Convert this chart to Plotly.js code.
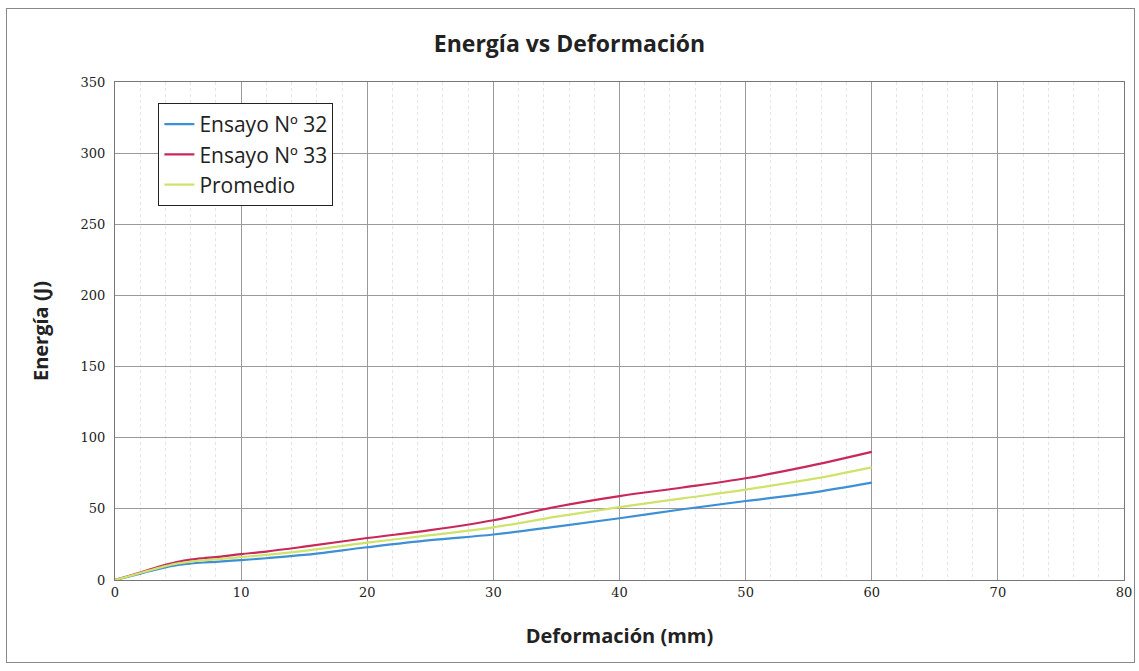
<!DOCTYPE html>
<html>
<head>
<meta charset="utf-8">
<script src="https://cdn.plot.ly/plotly-3.0.1.min.js"></script>
<style>
html,body{margin:0;padding:0;background:#fff;}
#frame{position:absolute;left:6px;top:8px;width:1129px;height:655px;border:1px solid #888;box-sizing:border-box;pointer-events:none;}
</style>
</head>
<body>
<div id="chart" style="width:1139px;height:671px;"></div>
<div id="frame"></div>
<script>
const deformacion = [0, 1, 2, 3, 4, 5, 6, 7, 8, 10, 12, 15, 20, 25, 30, 35, 40, 45, 50, 55, 60];
const ensayo32 = [0, 2.2, 4.5, 6.8, 8.9, 10.6, 11.6, 12.3, 12.8, 14.0, 15.3, 17.6, 23.0, 28.0, 32.0, 37.5, 43.4, 49.7, 55.5, 61.0, 68.4];
const ensayo33 = [0, 2.6, 5.3, 8.0, 10.6, 12.8, 14.3, 15.3, 16.1, 18.2, 20.0, 23.4, 29.5, 35.0, 42.0, 51.5, 59.0, 65.0, 71.5, 80.0, 90.0];
const promedio = [0, 2.4, 4.9, 7.4, 9.75, 11.7, 12.95, 13.8, 14.45, 16.1, 17.65, 20.5, 26.25, 31.5, 37.0, 44.5, 51.2, 57.35, 63.5, 70.5, 79.2];
const seriesNames = ["Ensayo Nº 32", "Ensayo Nº 33", "Promedio"];
const xTicks = [0, 10, 20, 30, 40, 50, 60, 70, 80];
const yTicks = [0, 50, 100, 150, 200, 250, 300, 350];

const traces = [
  {x: deformacion, y: ensayo32, name: seriesNames[0], mode: "lines", line: {color: "#3d8fd6", width: 2.2, shape: "spline"}},
  {x: deformacion, y: ensayo33, name: seriesNames[1], mode: "lines", line: {color: "#c8285a", width: 2.2, shape: "spline"}},
  {x: deformacion, y: promedio, name: seriesNames[2], mode: "lines", line: {color: "#cfe26a", width: 2.2, shape: "spline"}}
];

const layout = {
  width: 1139, height: 671,
  margin: {l: 115, r: 15, t: 82, b: 91},
  paper_bgcolor: "#ffffff", plot_bgcolor: "#ffffff",
  title: {text: "<b>Energía vs Deformación</b>", x: 0.5, xanchor: "center", y: 0.935, yanchor: "middle",
          font: {family: "Open Sans, Noto Sans, sans-serif", size: 23, color: "#222"}},
  xaxis: {
    range: [0, 80], tickvals: xTicks, ticktext: xTicks.map(String),
    showgrid: true, gridcolor: "#9a9a9a", gridwidth: 1,
    minor: {dtick: 2, showgrid: true, gridcolor: "#e4e4e4", griddash: "dot", gridwidth: 1},
    showline: true, linecolor: "#777", mirror: true, zeroline: false, ticks: "",
    tickfont: {family: "DejaVu Serif, Liberation Serif, serif", size: 13, color: "#222"},
    title: {text: "<b>Deformación (mm)</b>", font: {family: "Open Sans, Noto Sans, sans-serif", size: 20, color: "#222"}, standoff: 30}
  },
  yaxis: {
    range: [0, 350], tickvals: yTicks, ticktext: yTicks.map(String),
    showgrid: true, gridcolor: "#9a9a9a", gridwidth: 1,
    showline: true, linecolor: "#777", mirror: true, zeroline: false, ticks: "",
    ticklabelstandoff: 6,
    tickfont: {family: "DejaVu Serif, Liberation Serif, serif", size: 13, color: "#222"},
    title: {text: "<b>Energía (J)</b>", font: {family: "Open Sans, Noto Sans, sans-serif", size: 20, color: "#222"}, standoff: 26}
  },
  legend: {
    x: 0.043, y: 0.958, xanchor: "left", yanchor: "top",
    bgcolor: "#ffffff", bordercolor: "#222", borderwidth: 1,
    font: {family: "Open Sans, Noto Sans, sans-serif", size: 21, color: "#222"},
    itemwidth: 30, tracegroupgap: 0
  },
  showlegend: true
};

Plotly.newPlot("chart", traces, layout, {displayModeBar: false, staticPlot: true});
</script>
</body>
</html>
